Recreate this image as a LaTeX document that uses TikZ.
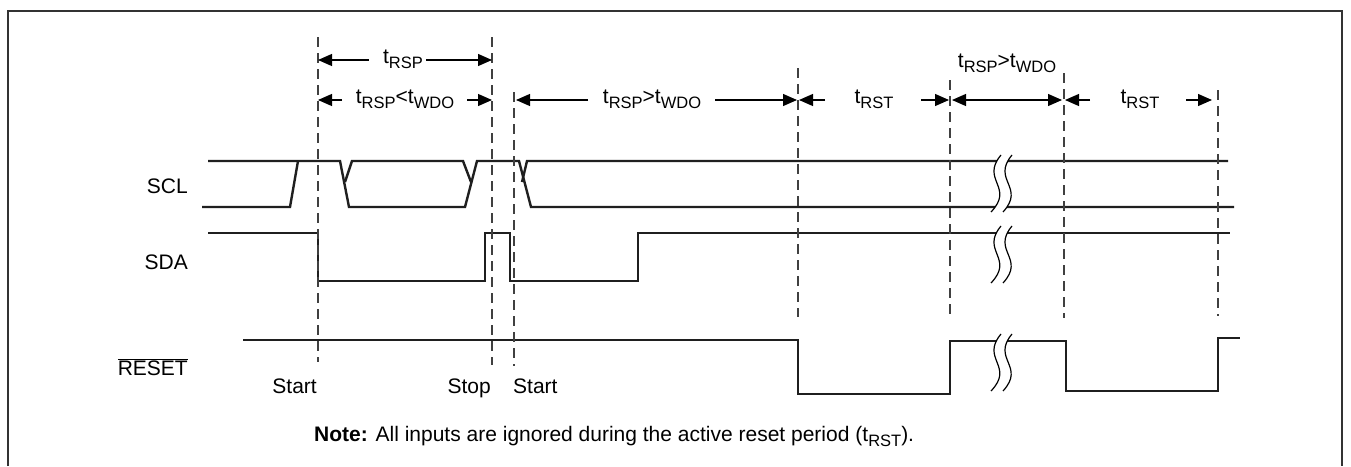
\documentclass[tikz,border=0pt]{standalone}
\usepackage{fontspec}
\setmainfont{Liberation Sans}
\usetikzlibrary{arrows.meta}
\newcommand{\tsub}[1]{t\raisebox{-5pt}{\fontsize{16.5}{17}\selectfont #1}}
\begin{document}
\begin{tikzpicture}[x=1pt,y=-1pt,
  sig/.style={line width=2.4pt, line join=miter, black!88},
  guide/.style={line width=1.2pt, dash pattern=on 10pt off 6pt, black!75},
  dim/.style={line width=1.2pt, -{Triangle[length=14pt,width=12pt]}},
  dimboth/.style={line width=1.2pt, {Triangle[length=14pt,width=12pt]}-{Triangle[length=14pt,width=12pt]}},
  lbl/.style={font=\fontsize{21}{24}\selectfont, inner sep=0pt},
  frame/.style={line width=1.3pt, black!80},
  brk/.pic={
    \fill[white] (10,0) .. controls (-11,25) and (24,32) .. (0,57) -- (12,57)
       .. controls (35,32) and (0,25) .. (21,0) -- cycle;
    \draw[line width=1.2pt] (10,0) .. controls (-11,25) and (24,32) .. (0,57);
    \draw[line width=1.2pt] (21,0) .. controls (0,25) and (35,32) .. (12,57);
  }]
\useasboundingbox (0,0) rectangle (1351,466);
\fill[white] (0,0) rectangle (1351,466);
% frame
\draw[frame] (8,466) -- (8,11) -- (1342,11) -- (1342,466);

% guide coordinates
\coordinate (g1t) at (318,37);  \coordinate (g1b) at (318,362);
\coordinate (g2t) at (492,37);  \coordinate (g2b) at (492,365);
\coordinate (g3t) at (514,92);  \coordinate (g3b) at (514,366);
\coordinate (g4t) at (798,68);  \coordinate (g4b) at (798,317);
\coordinate (g5t) at (950,80);  \coordinate (g5b) at (950,320);
\coordinate (g6t) at (1064,73); \coordinate (g6b) at (1064,318);
\coordinate (g7t) at (1218,90); \coordinate (g7b) at (1218,316);

% signals
% SCL
\draw[sig] (202,207) -- (290,207) -- (298,161);
\draw[sig] (208,161) -- (340,161) -- (349,207) -- (465,207) -- (477,161) -- (519,161) -- (531,207) -- (1234,207);
\draw[sig] (345,182) -- (352,161) -- (463,161) -- (471,182);
\draw[sig] (522,182) -- (527,161) -- (1228,161);
% SDA
\draw[sig] (208,233) -- (318,233) -- (318,281) -- (485,281) -- (485,233) -- (510,233) -- (510,281) -- (638,281) -- (638,233) -- (1230,233);
% RESET
\draw[sig] (243,340) -- (798,340) -- (798,394) -- (950,394) -- (950,341) -- (1066,341) -- (1066,391) -- (1218,391) -- (1218,338) -- (1240,338);

% breaks
\pic at (991,155) {brk};
\pic at (991,226) {brk};
\pic at (991,334) {brk};

% guides
\foreach \g in {1,...,7} { \draw[guide] (g\g t) -- (g\g b); }

% signal labels
\node[lbl, anchor=base east] (scl) at (188,193) {SCL};
\node[lbl, anchor=base east] (sda) at (188,269) {SDA};
\node[lbl, anchor=base east] (rst) at (188,375) {$\overline{\mbox{RESET}}$};
\node[lbl, anchor=base east] (start1) at (317,393) {Start};
\node[lbl, anchor=base east] (stop) at (491,393) {Stop};
\node[lbl, anchor=base west] (start2) at (513,393) {Start};
\node[lbl, anchor=base west] (note) at (314,441) {\textbf{Note:} All inputs are ignored during the active reset period (\tsub{RST}).};

% dimension labels
\node[lbl, anchor=base] (d1) at (403,63) {\tsub{RSP}};
\node[lbl, anchor=base] (d2) at (405,103) {\tsub{RSP}<\tsub{WDO}};
\node[lbl, anchor=base] (d3) at (652,103) {\tsub{RSP}>\tsub{WDO}};
\node[lbl, anchor=base] (d4) at (874,103) {\tsub{RST}};
\node[lbl, anchor=base] (d5) at (1007,67) {\tsub{RSP}>\tsub{WDO}};
\node[lbl, anchor=base] (d6) at (1140,103) {\tsub{RST}};

% dimension arrows
\draw[dim] (d1.west |- 0,60) ++(-14,0) coordinate (a1) -- (g1t |- 0,60);
\draw[dim] (d1.east |- 0,60) ++(3,0) coordinate (a2) -- (g2t |- 0,60);
\draw[dim] (342,100) coordinate (a3) -- (g1t |- 0,100);
\draw[dim] (467,100) coordinate (a4) -- (g2t |- 0,100);
\draw[dim] (588,100) coordinate (a5) -- ([xshift=2pt]g3t |- 0,100);
\draw[dim] (715,100) coordinate (a6) -- ([xshift=-1pt]g4t |- 0,100);
\draw[dim] (825,100) coordinate (a7) -- ([xshift=1pt]g4t |- 0,100);
\draw[dim] (921,100) coordinate (a8) -- ([xshift=-1pt]g5t |- 0,100);
\draw[dimboth] ([xshift=2pt]g5t |- 0,100) -- ([xshift=-2pt]g6t |- 0,100);
\draw[dim] (1090,100) coordinate (a9) -- ([xshift=1pt]g6t |- 0,100);
\draw[dim] (1186,100) coordinate (a10) -- ([xshift=-6pt]g7t |- 0,100);
\end{tikzpicture}
\end{document}
